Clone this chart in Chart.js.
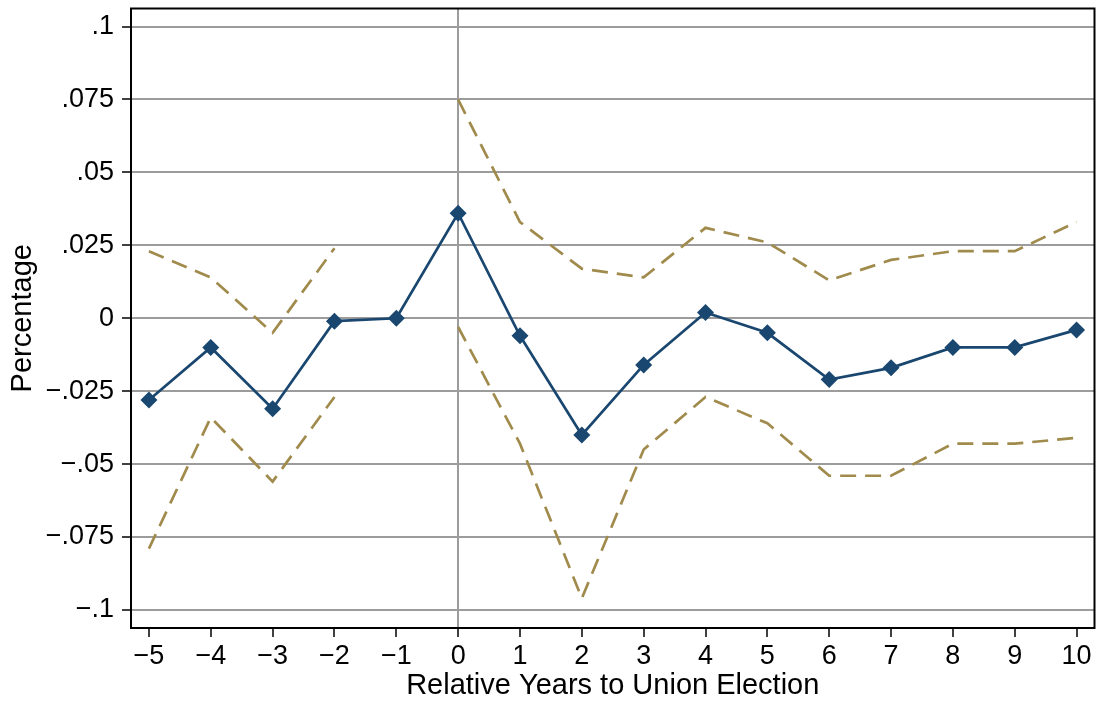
<!DOCTYPE html>
<html>
<head>
<meta charset="utf-8">
<script src="https://cdn.jsdelivr.net/npm/chart.js@4/dist/chart.umd.min.js"></script>
<style>
  html, body { margin: 0; padding: 0; background: #ffffff; }
  canvas { display: block; }
</style>
</head>
<body>
<canvas id="chart" width="1103" height="704"></canvas>
<script>
// Event-study estimates with 95% confidence bounds (year -1 is the reference year)
const years = [-5, -4, -3, -2, -1, 0, 1, 2, 3, 4, 5, 6, 7, 8, 9, 10];
const estimate = [-0.028, -0.010, -0.031, -0.001, 0.000, 0.036, -0.006, -0.040, -0.016, 0.002, -0.005, -0.021, -0.017, -0.010, -0.010, -0.004];
const upperCI = [0.023, 0.014, -0.005, 0.024, null, 0.075, 0.033, 0.017, 0.014, 0.031, 0.026, 0.013, 0.020, 0.023, 0.023, 0.033];
const lowerCI = [-0.079, -0.034, -0.056, -0.027, null, -0.003, -0.043, -0.096, -0.045, -0.027, -0.036, -0.054, -0.054, -0.043, -0.043, -0.041];

const yTicks = [-0.1, -0.075, -0.05, -0.025, 0, 0.025, 0.05, 0.075, 0.1];
const yTickLabels = ['\u2212.1', '\u2212.075', '\u2212.05', '\u2212.025', '0', '.025', '.05', '.075', '.1'];
const xTickLabels = years.map(v => (v < 0 ? '\u2212' + Math.abs(v) : String(v)));

const FONT = '"Liberation Sans", Arial, Helvetica, sans-serif';
const NAVY = '#1a476f';
const SAND = '#a08b4d';
const GRID = '#9c9c9c';

const toPoints = arr => years.map((x, i) => ({ x: x, y: arr[i] }));

// Box around the plot region
const framePlugin = {
  id: 'frame',
  afterDatasetsDraw(chart) {
    const { ctx, chartArea: a } = chart;
    ctx.save();
    ctx.strokeStyle = '#000';
    ctx.lineWidth = 2;
    ctx.strokeRect(a.left, a.top, a.right - a.left, a.bottom - a.top);
    ctx.restore();
  }
};

new Chart(document.getElementById('chart'), {
  type: 'line',
  data: {
    datasets: [
      {
        label: 'Upper bound',
        data: toPoints(upperCI),
        borderColor: SAND,
        borderWidth: 2.7,
        borderDash: [16, 9],
        pointRadius: 0,
        spanGaps: false,
        fill: false,
        tension: 0,
        order: 2
      },
      {
        label: 'Lower bound',
        data: toPoints(lowerCI),
        borderColor: SAND,
        borderWidth: 2.7,
        borderDash: [16, 9],
        pointRadius: 0,
        spanGaps: false,
        fill: false,
        tension: 0,
        order: 2
      },
      {
        label: 'Estimate',
        data: toPoints(estimate),
        borderColor: NAVY,
        backgroundColor: NAVY,
        borderWidth: 2.7,
        pointStyle: 'rectRot',
        pointRadius: 8.5,
        pointBorderWidth: 0,
        pointBackgroundColor: NAVY,
        fill: false,
        tension: 0,
        order: 1
      }
    ]
  },
  options: {
    responsive: false,
    animation: false,
    devicePixelRatio: 1,
    layout: { padding: { top: 7, right: 6, left: 0, bottom: 0 } },
    plugins: {
      legend: { display: false },
      tooltip: { enabled: false }
    },
    scales: {
      x: {
        type: 'linear',
        min: -5.29,
        max: 10.29,
        afterBuildTicks: scale => { scale.ticks = years.map(v => ({ value: v })); },
        afterFit: scale => {
          scale.height = 76;
          scale.paddingLeft = 0;
          scale.paddingRight = 0;
        },
        ticks: {
          autoSkip: false,
          maxRotation: 0,
          padding: 3,
          color: '#000',
          font: { family: FONT, size: 27 },
          callback: (value) => xTickLabels[years.indexOf(value)]
        },
        grid: {
          drawTicks: true,
          tickLength: 9,
          tickWidth: 1.5,
          tickColor: '#000',
          lineWidth: 2,
          color: ctx => (ctx.tick && ctx.tick.value === 0 ? GRID : 'rgba(0,0,0,0)')
        },
        border: { display: false },
        title: {
          display: true,
          text: 'Relative Years to Union Election',
          color: '#000',
          font: { family: FONT, size: 29 },
          padding: { top: 0, bottom: 1 }
        }
      },
      y: {
        type: 'linear',
        min: -0.1062,
        max: 0.1062,
        afterBuildTicks: scale => { scale.ticks = yTicks.map(v => ({ value: v })); },
        afterFit: scale => {
          scale.width = 131;
          scale.paddingTop = 0;
          scale.paddingBottom = 0;
        },
        ticks: {
          autoSkip: false,
          padding: 8,
          color: '#000',
          font: { family: FONT, size: 27 },
          callback: (value) => {
            const i = yTicks.findIndex(t => Math.abs(t - value) < 1e-9);
            return i >= 0 ? yTickLabels[i] : '';
          }
        },
        grid: {
          drawTicks: true,
          tickLength: 9,
          tickWidth: 1.5,
          tickColor: '#000',
          lineWidth: 2,
          color: GRID
        },
        border: { display: false },
        title: {
          display: true,
          text: 'Percentage',
          color: '#000',
          font: { family: FONT, size: 29 },
          padding: { top: 6, bottom: 0 }
        }
      }
    }
  },
  plugins: [framePlugin]
});
</script>
</body>
</html>
